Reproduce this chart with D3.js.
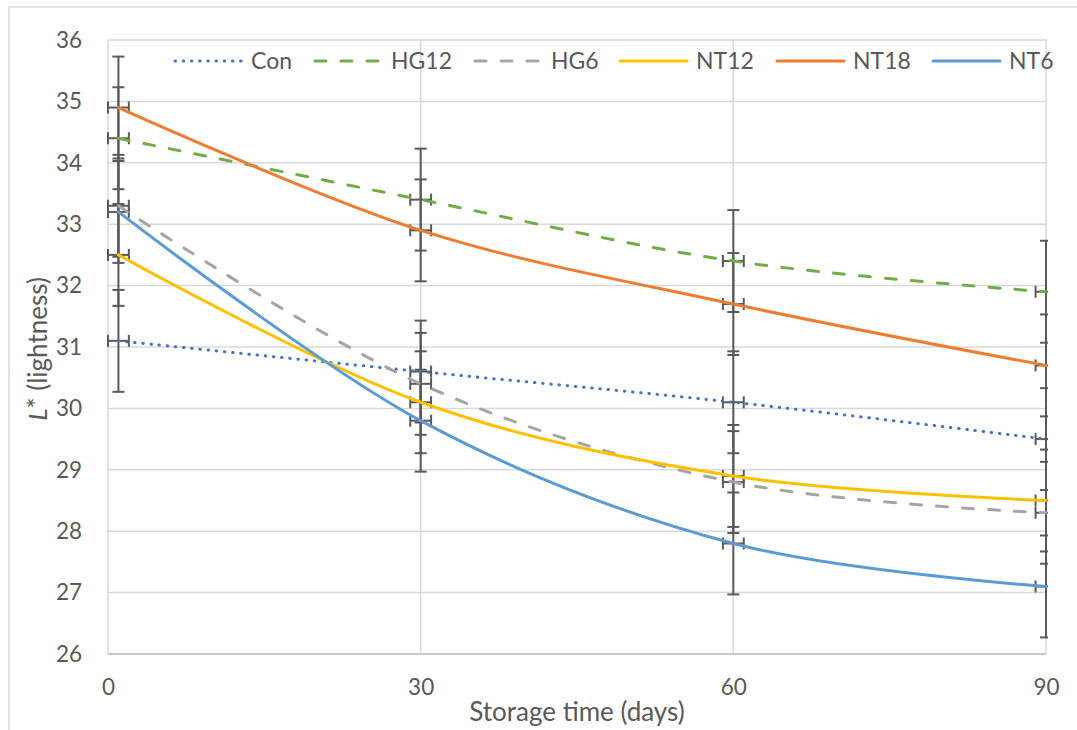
<!DOCTYPE html>
<html>
<head>
<meta charset="utf-8">
<script src="https://cdn.jsdelivr.net/npm/d3@7"></script>
<style>
  html, body { margin: 0; padding: 0; background: #fff; }
  svg { display: block; }
  text { font-family: Lato, "Open Sans", sans-serif; fill: #595959; }
</style>
</head>
<body>
<svg id="chart" width="1077" height="730"></svg>
<script>
// ---------------- data ----------------
const days = [1, 30, 60, 90];
const seriesNames = ["Con", "HG12", "HG6", "NT12", "NT18", "NT6"];
const con  = [31.1, 30.6, 30.1, 29.5];
const hg12 = [34.4, 33.4, 32.4, 31.9];
const hg6  = [33.3, 30.4, 28.8, 28.3];
const nt12 = [32.5, 30.1, 28.9, 28.5];
const nt18 = [34.9, 32.9, 31.7, 30.7];
const nt6  = [33.2, 29.8, 27.8, 27.1];
const yErrors = [0.83, 0.83, 0.83, 0.83, 0.83, 0.83]; // per series, L* units
const xErrors = [1, 1, 1, 1, 1, 1];                   // per series, days
const yTicks = [26, 27, 28, 29, 30, 31, 32, 33, 34, 35, 36];
const xTicks = [0, 30, 60, 90];
const xTitle = "Storage time (days)";

// ---------------- styles ----------------
const seriesValues = [con, hg12, hg6, nt12, nt18, nt6];
const styles = [
  { color: "#4472C4", dash: "0.5 7.7", width: 3 },
  { color: "#70AD47", dash: "11 15", width: 3 },
  { color: "#A5A5A5", dash: "11 15", width: 3 },
  { color: "#FFC000", dash: null, width: 3 },
  { color: "#ED7D31", dash: null, width: 3 },
  { color: "#5B9BD5", dash: null, width: 3 }
];
const legendX = [175, 315, 475, 620, 777, 933];

const svg = d3.select("#chart");
const plot = { left: 108, right: 1046, top: 40, bottom: 654 };

const x = d3.scaleLinear().domain([0, 90]).range([plot.left, plot.right]);
const y = d3.scaleLinear().domain([26, 36]).range([plot.bottom, plot.top]);

// outer chart border
svg.append("rect")
  .attr("x", 9).attr("y", 7).attr("width", 1200).attr("height", 900)
  .attr("fill", "none").attr("stroke", "#d9d9d9").attr("stroke-width", 1.5);

// gridlines
const grid = svg.append("g");
grid.selectAll("line.h").data(yTicks).join("line")
  .attr("x1", plot.left).attr("x2", plot.right)
  .attr("y1", d => y(d)).attr("y2", d => y(d))
  .attr("stroke", "#d9d9d9").attr("stroke-width", 1.5);
grid.selectAll("line.v").data(xTicks).join("line")
  .attr("y1", plot.top).attr("y2", plot.bottom)
  .attr("x1", d => x(d)).attr("x2", d => x(d))
  .attr("stroke", "#d9d9d9").attr("stroke-width", 1.5);
// bottom axis line
svg.append("line")
  .attr("x1", plot.left).attr("x2", plot.right)
  .attr("y1", y(26)).attr("y2", y(26))
  .attr("stroke", "#bfbfbf").attr("stroke-width", 1.5);

// axes (labels only)
const yAxis = d3.axisLeft(y).tickValues(yTicks).tickSize(0).tickPadding(0).tickFormat(d3.format("d"));
const gy = svg.append("g").attr("transform", `translate(${plot.left - 26},0)`).call(yAxis);
gy.select(".domain").remove();
gy.selectAll("text").attr("font-size", 22.5).attr("fill", "#595959")
  .style("font-family", "Lato, sans-serif");

const xAxis = d3.axisBottom(x).tickValues(xTicks).tickSize(0).tickPadding(0).tickFormat(d3.format("d"));
const gx = svg.append("g").attr("transform", `translate(0,${plot.bottom + 25})`).call(xAxis);
gx.select(".domain").remove();
gx.selectAll("text").attr("font-size", 22.5).attr("fill", "#595959")
  .style("font-family", "Lato, sans-serif");

// axis titles
svg.append("text")
  .attr("x", (plot.left + plot.right) / 2).attr("y", 721)
  .attr("text-anchor", "middle").attr("font-size", 26)
  .text(xTitle);

const yt = svg.append("text")
  .attr("transform", `translate(47,${(plot.top + plot.bottom) / 2 + 2}) rotate(-90)`)
  .attr("text-anchor", "middle").attr("font-size", 26);
yt.append("tspan").attr("font-style", "italic").text("L");
yt.append("tspan").text("* (lightness)");

// clip for error bars / lines
svg.append("clipPath").attr("id", "clip")
  .append("rect").attr("x", 0).attr("y", 0).attr("width", plot.right + 2).attr("height", 730);

const content = svg.append("g").attr("clip-path", "url(#clip)");

// error bars
const ebColor = "#595959", cap = 6;
const eb = content.append("g");
seriesValues.forEach((vals, si) => {
  const ye = yErrors[si], xe = xErrors[si];
  vals.forEach((v, i) => {
    const cx = x(days[i]), cy = y(v);
    const g = eb.append("g").attr("stroke", ebColor).attr("stroke-width", 2).attr("fill", "none");
    // vertical
    g.append("line").attr("x1", cx).attr("x2", cx).attr("y1", y(v + ye)).attr("y2", y(v - ye));
    g.append("line").attr("x1", cx - cap).attr("x2", cx + cap).attr("y1", y(v + ye)).attr("y2", y(v + ye));
    g.append("line").attr("x1", cx - cap).attr("x2", cx + cap).attr("y1", y(v - ye)).attr("y2", y(v - ye));
    // horizontal
    g.append("line").attr("x1", x(days[i] - xe)).attr("x2", x(days[i] + xe)).attr("y1", cy).attr("y2", cy);
    g.append("line").attr("x1", x(days[i] - xe)).attr("x2", x(days[i] - xe)).attr("y1", cy - cap).attr("y2", cy + cap);
    g.append("line").attr("x1", x(days[i] + xe)).attr("x2", x(days[i] + xe)).attr("y1", cy - cap).attr("y2", cy + cap);
  });
});

// lines
const line = d3.line()
  .x(d => x(d[0])).y(d => y(d[1]))
  .curve(d3.curveCatmullRom.alpha(0));
seriesValues.forEach((vals, si) => {
  const st = styles[si];
  content.append("path")
    .datum(vals.map((v, i) => [days[i], v]))
    .attr("d", line)
    .attr("fill", "none")
    .attr("stroke", st.color)
    .attr("stroke-width", st.width)
    .attr("stroke-linecap", "round")
    .attr("stroke-dasharray", st.dash);
});

// legend
const legY = 61;
const lg = svg.append("g");
seriesNames.forEach((name, si) => {
  const st = styles[si], lx = legendX[si];
  lg.append("line")
    .attr("x1", lx).attr("x2", lx + 67)
    .attr("y1", legY).attr("y2", legY)
    .attr("stroke", st.color).attr("stroke-width", st.width)
    .attr("stroke-linecap", "round")
    .attr("stroke-dasharray", st.dash);
  lg.append("text")
    .attr("x", lx + 76).attr("y", legY)
    .attr("dy", "0.36em")
    .attr("font-size", 23)
    .text(name);
});
</script>
</body>
</html>
